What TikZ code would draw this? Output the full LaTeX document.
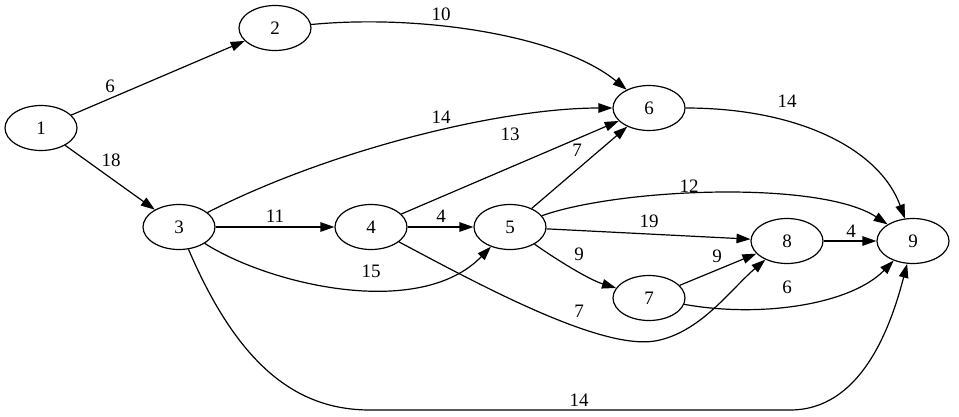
\documentclass[tikz,border=0pt]{standalone}
\usepackage{fontspec}
\setmainfont{Liberation Serif}
\usetikzlibrary{arrows.meta,shapes.geometric}
\newcommand{\labfont}{\fontsize{19}{21}\selectfont}
\begin{document}
\begin{tikzpicture}[x=1pt,y=-1pt,
  vert/.style={draw,ellipse,minimum width=72pt,minimum height=45pt,inner sep=0pt,line width=1.2pt,font=\labfont},
  conn/.style={draw,line width=1.2pt,-{Triangle[length=14pt,width=9.5pt]}},
  lab/.style={inner sep=0pt,font=\labfont}]
\useasboundingbox (0,0) rectangle (959,416);
\node[vert] (n1) at (41,128) {1};
\node[vert] (n2) at (275,28) {2};
\node[vert] (n3) at (179,227) {3};
\node[vert] (n4) at (371,227) {4};
\node[vert] (n5) at (510,227) {5};
\node[vert] (n6) at (649,108) {6};
\node[vert] (n7) at (649,298) {7};
\node[vert] (n8) at (787,241) {8};
\node[vert] (n9) at (913,241) {9};

\draw[conn] (n1) -- (n2);
\draw[conn] (n1) -- (n3);
\draw[conn] (n2) .. controls (420,14) and (560,35) .. (n6);
\draw[conn] (n3) .. controls (330,150) and (500,108) .. (n6);
\draw[conn] (n3) -- (n4);
\draw[conn] (n3) .. controls (270,285) and (420,320) .. (n5);
\draw[conn] (n3) .. controls (240,370) and (300,410) .. (370,410) -- (790,410) .. controls (860,410) and (890,330) .. (n9);
\draw[conn] (n4) -- (n6);
\draw[conn] (n4) -- (n5);
\draw[conn] (n4) .. controls (480,285) and (600,350) .. (655,341) .. controls (700,333) and (730,290) .. (n8);
\draw[conn] (n5) -- (n6);
\draw[conn] (n5) .. controls (620,188) and (820,180) .. (n9);
\draw[conn] (n5) -- (n8);
\draw[conn] (n5) .. controls (560,262) and (590,280) .. (n7);
\draw[conn] (n7) -- (n8);
\draw[conn] (n7) .. controls (760,318) and (850,305) .. (n9);
\draw[conn] (n6) .. controls (800,108) and (880,150) .. (n9);
\draw[conn] (n8) -- (n9);

\node[lab] (l12) at (110,86) {6};
\node[lab] (l13) at (111,160) {18};
\node[lab] (l26) at (441,14) {10};
\node[lab] (l36) at (441,117) {14};
\node[lab] (l34) at (275,216) {11};
\node[lab] (l46) at (510,134) {13};
\node[lab] (l45) at (441,216) {4};
\node[lab] (l56) at (577,150) {7};
\node[lab] (l59) at (689,186) {12};
\node[lab] (l58) at (649,221) {19};
\node[lab] (l57) at (579,254) {9};
\node[lab] (l35) at (371,271) {15};
\node[lab] (l48) at (579,311) {7};
\node[lab] (l78) at (717,256) {9};
\node[lab] (l79) at (787,287) {6};
\node[lab] (l89) at (851,231) {4};
\node[lab] (l69) at (787,101) {14};
\node[lab] (l39) at (579,400) {14};
\end{tikzpicture}
\end{document}
